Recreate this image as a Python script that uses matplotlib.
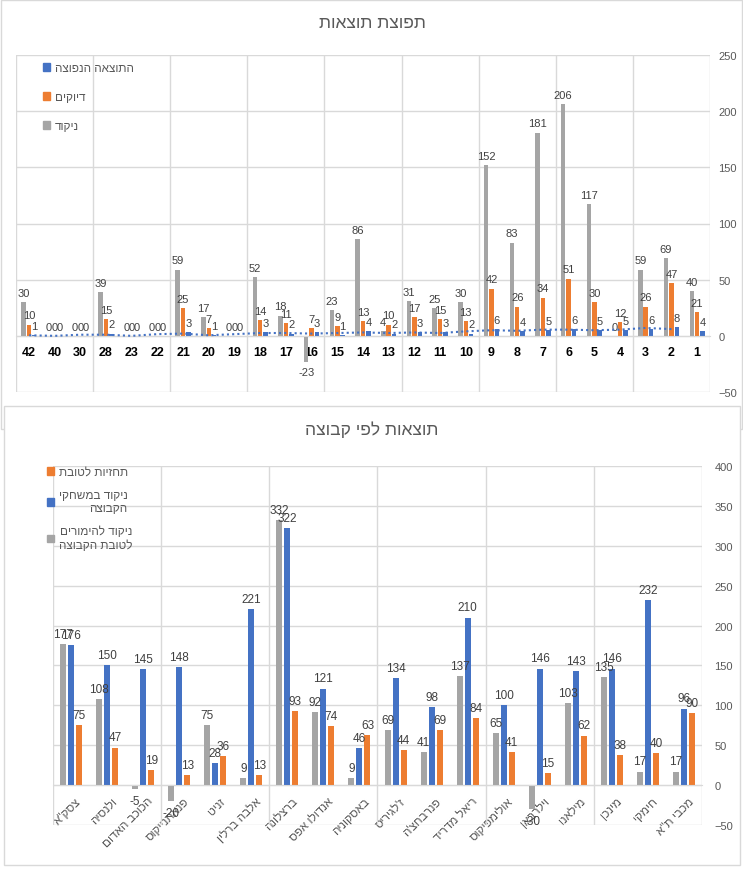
import numpy as np
import matplotlib
matplotlib.use('Agg')
import matplotlib.pyplot as plt
from matplotlib.patches import Rectangle, Patch

plt.rcParams['font.family'] = ['Liberation Sans', 'DejaVu Sans']

# ---------------- data ----------------
title_top = 'תפוצת תוצאות'
cats_top = ['1', '2', '3', '4', '5', '6', '7', '8', '9', '10', '11', '12', '13', '14',
            '15', '16', '17', '18', '19', '20', '21', '22', '23', '28', '30', '40', '42']
common = [4, 8, 6, 5, 5, 6, 5, 4, 6, 2, 3, 3, 2, 4, 1, 3, 2, 3, 0, 1, 3, 0, 0, 2, 0, 0, 1]
accuracy = [21, 47, 26, 12, 30, 51, 34, 26, 42, 13, 15, 17, 10, 13, 9, 7, 11, 14, 0, 7, 25, 0, 0, 15, 0, 0, 10]
score = [40, 69, 59, 0, 117, 206, 181, 83, 152, 30, 25, 31, 4, 86, 23, -23, 18, 52, 0, 17, 59, 0, 0, 39, 0, 0, 30]
top_series_names = ['התוצאה הנפוצה', 'דיוקים', 'ניקוד']

title_bot = 'תוצאות לפי קבוצה'
teams = ['צסק"א', 'ולנסיה', 'הכוכב האדום', 'פנאתנייקוס', 'זניט', 'אלבה ברלין', 'ברצלונה',
         'אנדולו אפס', 'באסקוניה', "ז'לגיריס", "פנרבחצ'ה", 'ריאל מדריד', 'אולימפיקוס',
         'וילרבאן', 'מילאנו', 'מינכן', 'חימקי', 'מכבי ת"א']
bets = [177, 108, -5, -20, 75, 9, 332, 92, 9, 69, 41, 137, 65, -30, 103, 135, 17, 17]
games = [176, 150, 145, 148, 28, 221, 322, 121, 46, 134, 98, 210, 100, 146, 143, 146, 232, 96]
preds = [75, 47, 19, 13, 36, 13, 93, 74, 63, 44, 69, 84, 41, 15, 62, 38, 40, 90]
bot_series_names = ['תחזיות לטובת', 'ניקוד במשחקי\nהקבוצה', 'ניקוד להימורים\nלטובת הקבוצה']

BLUE, ORANGE, GRAY = '#4472C4', '#ED7D31', '#A5A5A5'
GRID = '#d9d9d9'
TXT = '#595959'
LBL = '#404040'


def rtl(s):
    return '\n'.join(line[::-1] for line in s.split('\n'))


W, H = 743, 879
fig = plt.figure(figsize=(W / 100, H / 100), dpi=100)


def ax_rect(l, t, r, b):
    return [l / W, 1 - b / H, (r - l) / W, (b - t) / H]


fig.patches.append(Rectangle((1 / W, 1 - 430 / H), 741 / W, 429 / H, transform=fig.transFigure,
                             fill=False, ec=GRID, lw=1, zorder=-2))
fig.patches.append(Rectangle((4 / W, 1 - 866 / H), 736 / W, 459 / H, transform=fig.transFigure,
                             fc='white', ec=GRID, lw=1, zorder=-1))


def label_bars(ax, xs, vals, fs=8):
    for xx, v in zip(xs, vals):
        if v >= 0:
            ax.annotate(str(v), (xx, v), xytext=(0, 3), textcoords='offset points',
                        ha='center', va='bottom', fontsize=fs, color=LBL)
        else:
            ax.annotate(str(v), (xx, v), xytext=(0, -4), textcoords='offset points',
                        ha='center', va='top', fontsize=fs, color=LBL)


def style_axes(ax, ylo, yhi, step, n, pad_y):
    ax.set_ylim(ylo, yhi)
    ax.set_yticks(np.arange(ylo, yhi + 1, step))
    ax.yaxis.tick_right()
    ax.tick_params(axis='y', length=0, labelsize=8, labelcolor=TXT, pad=pad_y)
    ax.yaxis.grid(True, color=GRID, lw=1)
    ax.set_xticks(np.arange(-0.5, n, 3), minor=True)
    ax.grid(which='minor', axis='x', color=GRID, lw=1)
    ax.tick_params(which='minor', length=0)
    ax.set_axisbelow(True)
    for s in ['top', 'left', 'right']:
        ax.spines[s].set_visible(False)
    ax.spines['bottom'].set_position(('data', 0))
    ax.spines['bottom'].set_color(GRID)


# ---------------- top chart ----------------
ax1 = fig.add_axes(ax_rect(16, 56, 710, 393))
n1 = len(cats_top)
x1 = np.arange(n1)
st, bw = 0.21, 0.175
ax1.bar(x1 + st, score, bw, color=GRAY, zorder=2)
ax1.bar(x1, accuracy, bw, color=ORANGE, zorder=2)
ax1.bar(x1 - st, common, bw, color=BLUE, zorder=2)
label_bars(ax1, x1 + st, score)
label_bars(ax1, x1, accuracy)
label_bars(ax1, x1 - st, common)
ma = [(common[i - 1] + common[i]) / 2 for i in range(1, n1)]
ax1.plot(x1[1:], ma, color=BLUE, lw=1.5, ls=(0, (1, 1.5)), zorder=3)
style_axes(ax1, -50, 250, 50, n1, 6)
ax1.set_xlim(n1 - 0.5, -0.5)
ax1.set_xticks(x1)
ax1.set_xticklabels(cats_top, fontsize=9, fontweight='bold', color='black')
ax1.tick_params(axis='x', length=0, pad=7)

h1 = [Patch(color=BLUE), Patch(color=ORANGE), Patch(color=GRAY)]
leg1 = ax1.legend(h1, [rtl(s) for s in top_series_names], loc='upper left',
                  bbox_to_anchor=(43 / W, 1 - 63 / H), bbox_transform=fig.transFigure,
                  frameon=False, fontsize=8.5, handlelength=0.6, handleheight=0.6,
                  handletextpad=0.4, labelspacing=1.45, borderpad=0, borderaxespad=0)
for t in leg1.get_texts():
    t.set_color(TXT)

fig.text(372 / W, 1 - 23 / H, rtl(title_top), ha='center', va='center', fontsize=12.5, color=TXT)

# ---------------- bottom chart ----------------
ax2 = fig.add_axes(ax_rect(53, 467, 702, 826))
n2 = len(teams)
x2 = np.arange(n2)
st2, bw2 = 0.222, 0.167
ax2.bar(x2 - st2, bets, bw2, color=GRAY, zorder=2)
ax2.bar(x2, games, bw2, color=BLUE, zorder=2)
ax2.bar(x2 + st2, preds, bw2, color=ORANGE, zorder=2)
label_bars(ax2, x2 - st2, bets, 8.5)
label_bars(ax2, x2, games, 8.5)
label_bars(ax2, x2 + st2, preds, 8.5)
style_axes(ax2, -50, 400, 50, n2, 9)
ax2.set_xlim(-0.5, n2 - 0.5)
ax2.set_xticks(x2 + 0.1)
ax2.set_xticklabels([rtl(t) for t in teams], fontsize=8.5, color=TXT, rotation=45,
                    ha='right', va='top', rotation_mode='anchor')
ax2.tick_params(axis='x', length=0, pad=7)

h2 = [Patch(color=ORANGE), Patch(color=BLUE), Patch(color=GRAY)]
leg2 = ax2.legend(h2, [rtl(s) for s in bot_series_names], loc='upper left',
                  bbox_to_anchor=(47 / W, 1 - 467 / H), bbox_transform=fig.transFigure,
                  frameon=False, fontsize=8.5, handlelength=0.6, handleheight=0.6,
                  handletextpad=0.4, labelspacing=0.9, borderpad=0, borderaxespad=0)
for t in leg2.get_texts():
    t.set_color(TXT)
    t.set_multialignment('right')

fig.text(372 / W, 1 - 430 / H, rtl(title_bot), ha='center', va='center', fontsize=12.5, color=TXT)

fig.savefig('out.png', dpi=100)
